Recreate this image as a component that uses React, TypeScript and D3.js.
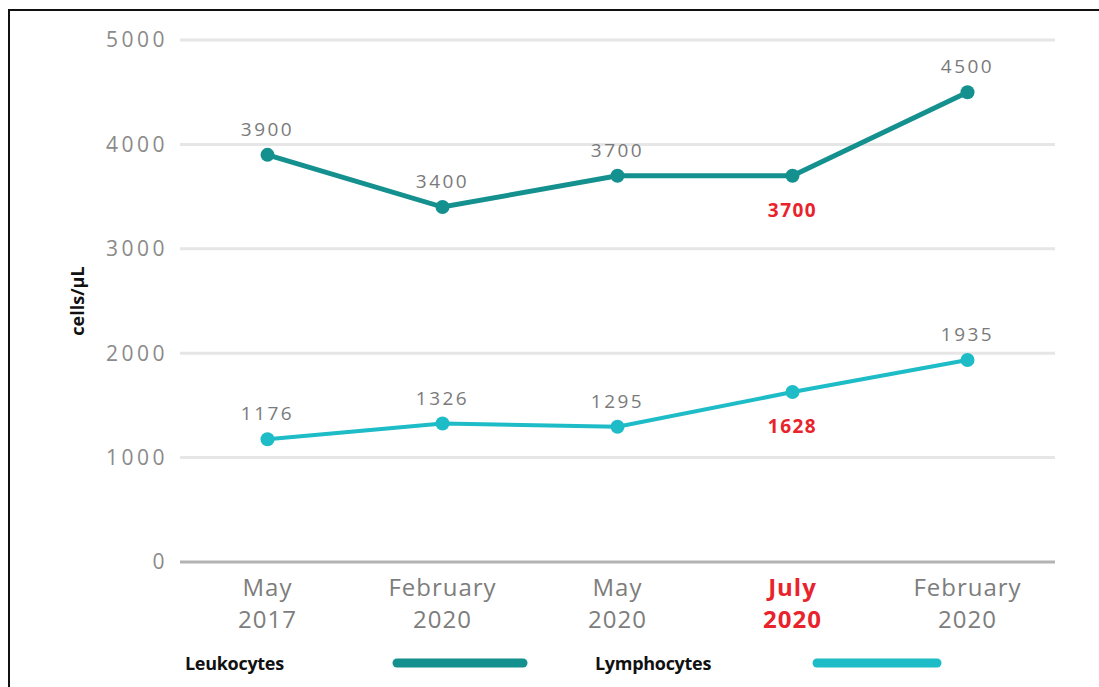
import React from "react";
import * as d3 from "d3";

const categories = ["May 2017", "February 2020", "May 2020", "July 2020", "February 2020 "];
const highlighted = "July 2020";
const leukocytes = [3900, 3400, 3700, 3700, 4500];
const lymphocytes = [1176, 1326, 1295, 1628, 1935];
const yTicks = [0, 1000, 2000, 3000, 4000, 5000];

const W = 1099;
const H = 687;
const LEUKO = "#14908f";
const LYMPH = "#1dbcc7";
const RED = "#e8232c";
const GREY = "#7a7a7a";

export default function App() {
  const x = d3.scalePoint<string>().domain(categories).range([180, 1055]).padding(0.5);
  const y = d3.scaleLinear().domain([0, 5000]).range([562, 40]);
  const line = d3
    .line<number>()
    .x((_, i) => x(categories[i]) as number)
    .y((d) => y(d));

  const series = [
    { name: "Leukocytes", values: leukocytes, color: LEUKO, width: 5 },
    { name: "Lymphocytes", values: lymphocytes, color: LYMPH, width: 4 },
  ];

  return (
    <svg
      width={W}
      height={H}
      style={{ position: "absolute", left: 0, top: 0, background: "#fff" }}
      fontFamily="'Open Sans', sans-serif"
    >
      {/* frame */}
      <path d={`M9,${H} V10 H${W}`} fill="none" stroke="#111" strokeWidth={2} />

      {/* grid */}
      {yTicks.map((t) => (
        <g key={t}>
          <line
            x1={180}
            x2={1055}
            y1={y(t)}
            y2={y(t)}
            stroke={t === 0 ? "#b3b3b3" : "#e6e6e6"}
            strokeWidth={3}
          />
          <text
            x={168}
            y={y(t)}
            dy="0.35em"
            textAnchor="end"
            fontSize={21}
            letterSpacing={3.5}
            fill="#8a8a8a"
          >
            {t}
          </text>
        </g>
      ))}

      <text
        transform="translate(84,301) rotate(-90)"
        textAnchor="middle"
        fontSize={18}
        fontWeight="bold"
        fill="#111"
      >
        cells/µL
      </text>

      {/* x labels, two lines each */}
      {categories.map((c) => {
        const [m, yr] = c.trim().split(" ");
        const hi = c === highlighted;
        const props = {
          x: x(c),
          textAnchor: "middle" as const,
          fontSize: 24,
          letterSpacing: 1,
          fontWeight: hi ? "bold" : "normal",
          fill: hi ? RED : "#7d7d7d",
        };
        return (
          <g key={c}>
            <text {...props} y={596}>
              {m}
            </text>
            <text {...props} y={628}>
              {yr}
            </text>
          </g>
        );
      })}

      {/* lines */}
      {series.map((s) => (
        <g key={s.name}>
          <path d={line(s.values) ?? ""} fill="none" stroke={s.color} strokeWidth={s.width} />
          {s.values.map((v, i) => {
            const hi = categories[i] === highlighted;
            return (
              <g key={i}>
                <circle cx={x(categories[i])} cy={y(v)} r={7} fill={s.color} />
                <text
                  x={x(categories[i])}
                  y={y(v) + (hi ? 41 : -19)}
                  textAnchor="middle"
                  fontSize={19}
                  letterSpacing={hi ? 1.5 : 2.5}
                  fontWeight={hi ? "bold" : "normal"}
                  fill={hi ? RED : GREY}
                >
                  {v}
                </text>
              </g>
            );
          })}
        </g>
      ))}

      {/* legend */}
      <text x={185} y={670} fontSize={18} letterSpacing={-0.3} fontWeight="bold" fill="#111">
        Leukocytes
      </text>
      <line x1={397} x2={523} y1={663} y2={663} stroke={LEUKO} strokeWidth={9} strokeLinecap="round" />
      <text x={595} y={670} fontSize={18} letterSpacing={-0.3} fontWeight="bold" fill="#111">
        Lymphocytes
      </text>
      <line x1={817} x2={937} y1={663} y2={663} stroke={LYMPH} strokeWidth={9} strokeLinecap="round" />
    </svg>
  );
}
